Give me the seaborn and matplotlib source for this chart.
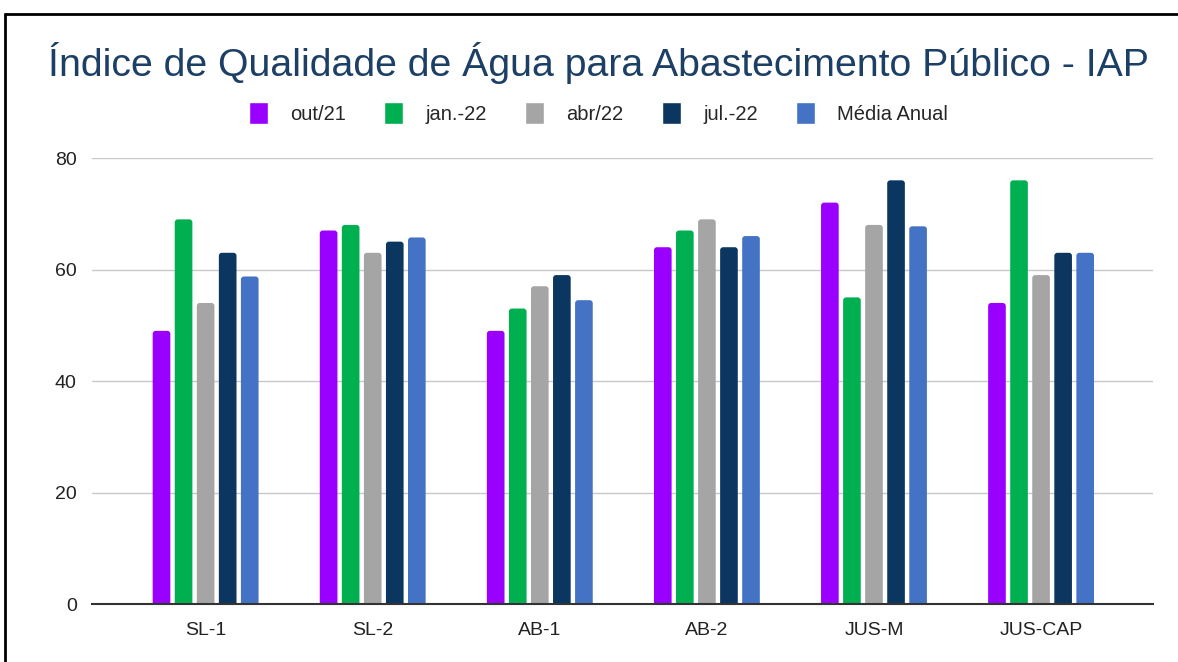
import matplotlib
matplotlib.use("Agg")
import matplotlib.pyplot as plt
import seaborn as sns
import pandas as pd
from matplotlib.lines import Line2D
from matplotlib.patches import FancyBboxPatch

# dados
pontos = ["SL-1", "SL-2", "AB-1", "AB-2", "JUS-M", "JUS-CAP"]
out21 = [49, 67, 49, 64, 72, 54]
jan22 = [69, 68, 53, 67, 55, 76]
abr22 = [54, 63, 57, 69, 68, 59]
jul22 = [63, 65, 59, 64, 76, 63]
media = [58.75, 65.75, 54.5, 66, 67.75, 63]

series = ["out/21", "jan.-22", "abr/22", "jul.-22", "Média Anual"]
cores = ["#9900ff", "#00b050", "#a5a5a5", "#0b365f", "#4472c4"]

rows = []
for nome, vals in zip(series, [out21, jan22, abr22, jul22, media]):
    for p, v in zip(pontos, vals):
        rows.append({"ponto": p, "periodo": nome, "iap": v})
df = pd.DataFrame(rows)

sns.set_theme(style="white")
plt.rcParams["font.family"] = ["Liberation Sans", "DejaVu Sans"]

fig = plt.figure(figsize=(11.78, 6.62), dpi=100)
ax = fig.add_axes([0.0781, 0.0876, 0.9007, 0.6737])

sns.barplot(data=df, x="ponto", y="iap", hue="periodo", palette=cores,
            width=0.66, gap=0.2, ax=ax, legend=True, saturation=1)

ax.set_ylim(0, 80)
ax.set_xlim(-0.68, 5.67)

# cantos arredondados nas barras
aspecto = (1061 / 6.35) / (446 / 80)
for p in list(ax.patches):
    x0, y0 = p.get_x(), p.get_y()
    w, h = p.get_width(), p.get_height()
    if h <= 0:
        continue
    novo = FancyBboxPatch((x0, y0 - 1), w, h + 1,
                          boxstyle="round,pad=0,rounding_size=0.018",
                          mutation_aspect=aspecto,
                          facecolor=p.get_facecolor(), edgecolor="none",
                          zorder=p.get_zorder())
    p.set_visible(False)
    ax.add_patch(novo)

ax.set_yticks([0, 20, 40, 60, 80])
ax.yaxis.grid(True, color="#c8c8c8", linewidth=1)
ax.set_axisbelow(True)
for s in ["left", "right", "top"]:
    ax.spines[s].set_visible(False)
ax.spines["bottom"].set_color("#333333")
ax.spines["bottom"].set_linewidth(1.5)
ax.spines["bottom"].set_zorder(5)
ax.set_xlabel("")
ax.set_ylabel("")
ax.tick_params(axis="both", length=0, labelsize=14, colors="#222222")
ax.tick_params(axis="x", pad=13)
ax.tick_params(axis="y", pad=11)

# legenda no topo
handles, labels = ax.get_legend_handles_labels()
ax.get_legend().remove()
fig.legend(handles, labels, loc="center", bbox_to_anchor=(0.508, 0.829), ncol=5,
           frameon=False, fontsize=14.5, handlelength=0.95, handleheight=1.3,
           columnspacing=1.9, handletextpad=1.1)

fig.text(0.508, 0.905, "Índice de Qualidade de Água para Abastecimento Público - IAP",
         ha="center", va="center", fontsize=28.3, color="#1c3f66",
         family=["Liberation Sans", "DejaVu Sans"])

# moldura (topo e esquerda)
fig.add_artist(Line2D([0.004, 1.0], [0.979, 0.979], color="black", linewidth=2,
                      transform=fig.transFigure))
fig.add_artist(Line2D([0.004, 0.004], [0.0, 0.979], color="black", linewidth=2,
                      transform=fig.transFigure))

fig.savefig("out.png", dpi=100)
